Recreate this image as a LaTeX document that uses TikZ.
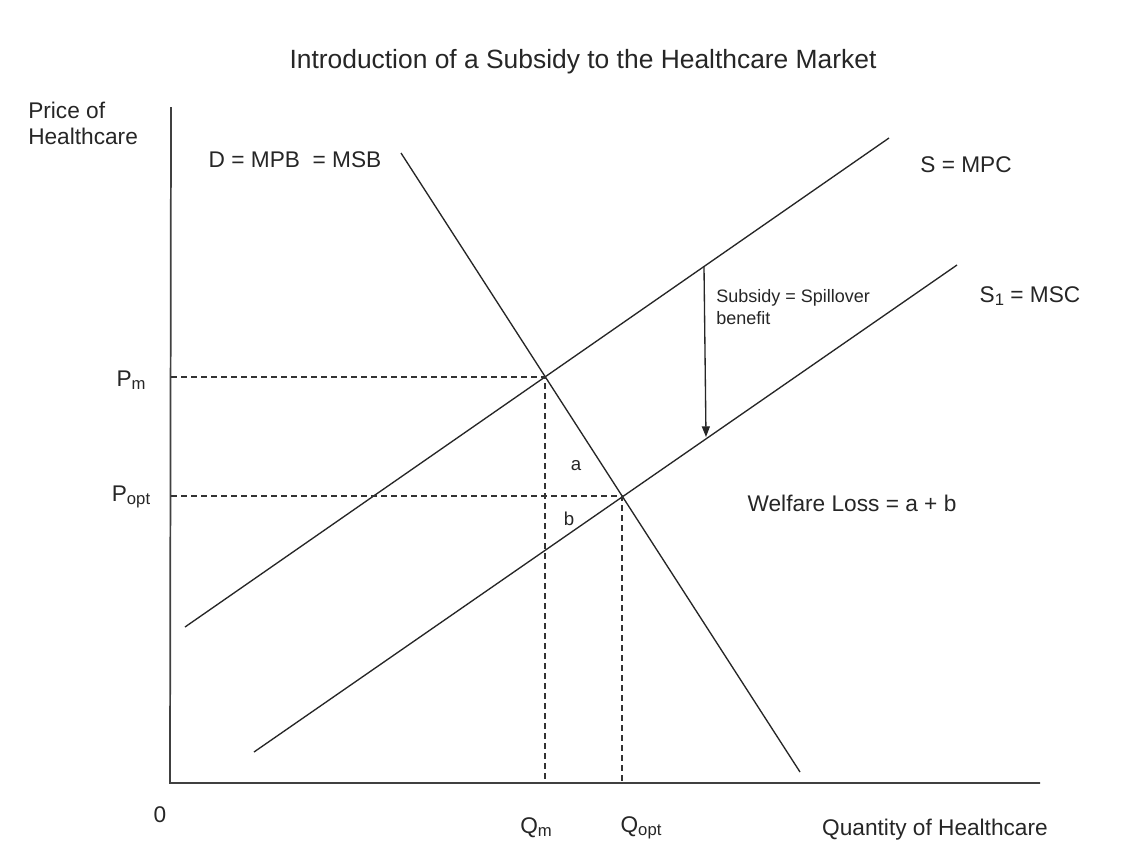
\documentclass[tikz,border=0pt]{standalone}
\usepackage{fontspec}
\setmainfont{Liberation Sans}
\usetikzlibrary{positioning,arrows.meta}
\newcommand{\lowsub}[1]{\raisebox{-0.25ex}{\fontsize{12.5}{13}\selectfont #1}}

\begin{document}
\begin{tikzpicture}[x=0.75pt,y=-0.75pt,
                every node/.append style = {font=\fontsize{17}{20}\selectfont, inner sep=0pt, text=black!85},
                curve/.style = {line width=1pt, draw=black!85},
                guide/.style = {line width=0.9pt, draw=black!80, dash pattern=on 4.5pt off 3pt},
                note/.style = {font=\fontsize{13.5}{17}\selectfont, align=left, anchor=west}]
            \useasboundingbox (0,0) rectangle (1127,864);
            \fill[white] (0,0) rectangle (1127,864);
            % axes
            \coordinate (origin) at (170,783);
            \coordinate (ytop) at (171,107);
            \coordinate (xend) at (1040,783);
            \draw[curve, line width=1.3pt, draw=black!75] (ytop) -- (origin) -- (xend);
            % supply and demand
            \coordinate (mpcA) at (185,627);
            \coordinate (mpcB) at (889,138);
            \coordinate (mscA) at (254,752);
            \coordinate (mscB) at (957,265);
            \coordinate (dA) at (401,153);
            \coordinate (dB) at (800,772);
            \draw[curve] (mpcA) -- (mpcB);
            \draw[curve] (mscA) -- (mscB);
            \draw[curve] (dA) -- (dB);
            % equilibria
            \coordinate (em) at (545,377);
            \coordinate (eopt) at (622,496);
            \draw[guide] (ytop |- em) -- (em) -- (em |- origin);
            \draw[guide] (ytop |- eopt) -- (eopt) -- (eopt |- origin);
            % subsidy
            \coordinate (subA) at (704,267);
            \coordinate (subB) at (706,437);
            \draw[curve, -{Triangle[length=8pt,width=6pt]}] (subA) -- (subB);
            % labels
            \node[font=\fontsize{19.8}{22}\selectfont] (title) at (583,62) {Introduction of a Subsidy to the Healthcare Market};
            \node[align=left, anchor=north west, font=\fontsize{17}{19.5}\selectfont] (ylabel) at (28,102) {Price of\\Healthcare};
            \node (xlabel) at (935,830) {Quantity of Healthcare};
            \node (zero) at (160,815) {0};
            \node (pm) at (131,380) {P\lowsub{m}};
            \node (popt) at (131,497) {P\lowsub{opt}};
            \node (qm) at (536,828) {Q\lowsub{m}};
            \node (qopt) at (641,828) {Q\lowsub{opt}};
            \node (dlabel) at (295,160) {D = MPB\ \ = MSB};
            \node (mpc) at (966,165) {S = MPC};
            \node (msc) at (1030,296) {S\lowsub{1} = MSC};
            \node[note] (subsidy) at (716,307) {Subsidy = Spillover\\benefit};
            \node[font=\fontsize{14}{17}\selectfont] (areaA) at (576,466) {a};
            \node[font=\fontsize{14}{17}\selectfont] (areaB) at (569,519) {b};
            \node (loss) at (852,503) {Welfare Loss = a + b};
            \end{tikzpicture}
\end{document}
